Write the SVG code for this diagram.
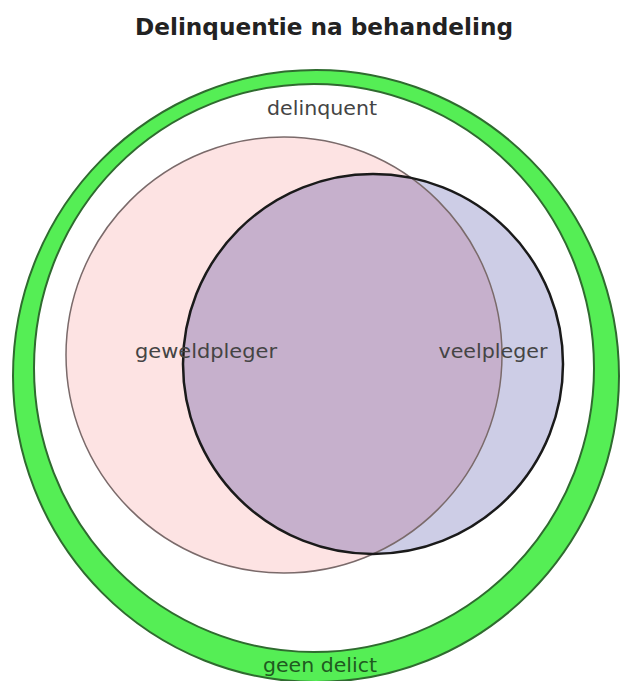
<svg xmlns="http://www.w3.org/2000/svg" width="621" height="681" viewBox="0 0 621 681">
<style>
.t{font-family:"DejaVu Sans",Verdana,sans-serif;font-size:19px;fill:#444;text-anchor:middle}
.title{font-family:"DejaVu Sans",Verdana,sans-serif;font-size:23px;font-weight:bold;fill:#222;text-anchor:middle}
</style>
<defs>
<clipPath id="pinkClip"><circle cx="284" cy="355" r="218"/></clipPath>
</defs>
<rect width="621" height="681" fill="#fff"/>
<text class="title" x="324" y="35" textLength="378" lengthAdjust="spacingAndGlyphs">Delinquentie na behandeling</text>
<g id="geen-delict">
<path d="M13,376 A303,306 0 1,0 619,376 A303,306 0 1,0 13,376 Z M34,368 A280,284 0 1,1 594,368 A280,284 0 1,1 34,368 Z" fill="#55ee55" fill-rule="evenodd" stroke="#2f6b2f" stroke-width="2"/>
<text class="t" x="320" y="672" style="fill:#1f5a1f" textLength="114" lengthAdjust="spacingAndGlyphs">geen delict</text>
</g>
<g id="delinquent">
<text class="t" x="322" y="115" textLength="110" lengthAdjust="spacingAndGlyphs">delinquent</text>
</g>
<g id="geweldpleger">
<circle cx="284" cy="355" r="218" fill="#fde3e3"/>
</g>
<g id="veelpleger">
<circle cx="373" cy="364" r="190" fill="#cdcde6"/>
<circle cx="373" cy="364" r="190" fill="#c6b0cc" clip-path="url(#pinkClip)"/>
<circle cx="284" cy="355" r="218" fill="none" stroke="#7a6a6a" stroke-width="1.5"/>
<circle cx="373" cy="364" r="190" fill="none" stroke="#1a1a1a" stroke-width="2.5"/>
</g>
<text class="t" x="206" y="358" textLength="142" lengthAdjust="spacingAndGlyphs">geweldpleger</text>
<text class="t" x="493" y="358" textLength="109" lengthAdjust="spacingAndGlyphs">veelpleger</text>
</svg>
